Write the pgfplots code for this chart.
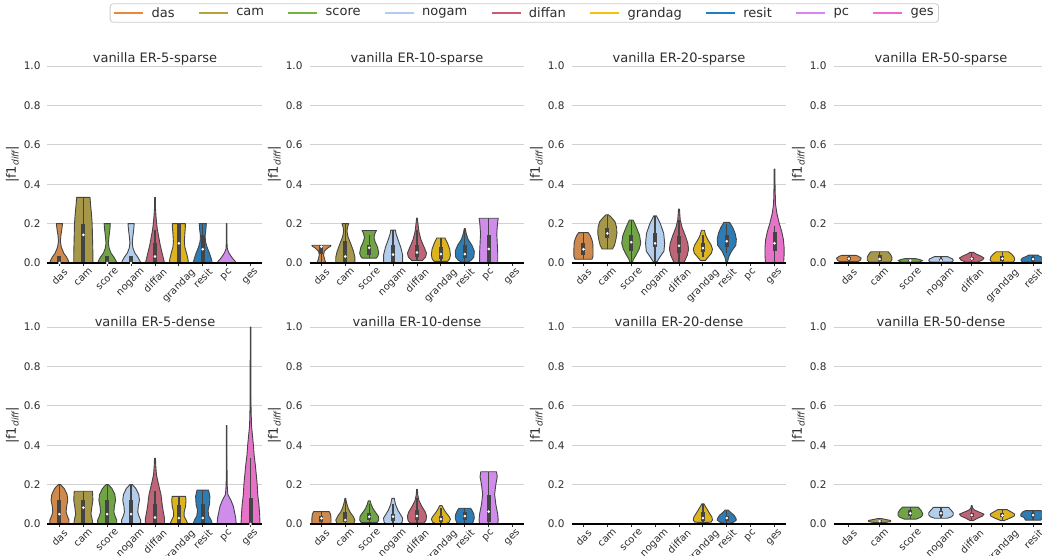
\documentclass[border=0pt]{standalone}
\usepackage{fontspec}
\setmainfont{DejaVu Sans}
\usepackage{graphicx}
\usepackage{pgfplots}
\pgfplotsset{compat=1.18}

\definecolor{textc}{RGB}{45,45,45}
\definecolor{vedge}{RGB}{68,68,68}
\definecolor{ldas}{RGB}{230,137,60}    \definecolor{vdas}{RGB}{207,137,76}
\definecolor{lcam}{RGB}{181,162,62}    \definecolor{vcam}{RGB}{166,152,72}
\definecolor{lscore}{RGB}{114,179,58}  \definecolor{vscore}{RGB}{112,164,68}
\definecolor{lnogam}{RGB}{174,205,242} \definecolor{vnogam}{RGB}{178,206,236}
\definecolor{ldiffan}{RGB}{204,90,114} \definecolor{vdiffan}{RGB}{192,100,120}
\definecolor{lgrandag}{RGB}{244,194,13}\definecolor{vgrandag}{RGB}{222,180,30}
\definecolor{lresit}{RGB}{31,127,196}  \definecolor{vresit}{RGB}{46,124,180}
\definecolor{lpc}{RGB}{214,131,245}    \definecolor{vpc}{RGB}{208,140,235}
\definecolor{lges}{RGB}{245,103,207}   \definecolor{vges}{RGB}{230,115,200}

% violin: position, colour, half-profile (half width, value) from bottom to top;
% the profile is mirrored into a closed outline
\makeatletter
\newcommand{\vio}[3]{%
  \gdef\vR{}\gdef\vL{}\gdef\vF{}%
  \vparse#3\relax
  \edef\vtmp{\noexpand\addplot[forget plot, fill=#2, draw=vedge, line width=0.9pt,
    line join=round, x filter/.expression={#1+x}] coordinates {\vR\vL\vF};}%
  \vtmp
}
\def\vparse{\@ifnextchar(\vparseA\@gobble}
\def\vparseA(#1,#2){\ifx\vF\@empty\xdef\vF{(#1,#2)}\fi
  \xdef\vR{\vR(#1,#2) }\xdef\vL{(-#1,#2) \vL}\vparse}
\makeatother
% inner box: position, low whisker, q1, median, q3, high whisker
\newcommand{\ibox}[6]{%
  \addplot[forget plot, vedge, line width=1.3pt] coordinates {(#1,#2) (#1,#6)};
  \addplot[forget plot, vedge, line width=4pt] coordinates {(#1,#3) (#1,#5)};
  \addplot[forget plot, only marks, mark=*, mark size=1.1pt, color=white] coordinates {(#1,#4)};
}
% degenerate violin (single value)
\newcommand{\vflat}[2]{%
  \addplot[forget plot, vedge, line width=1.2pt, x filter/.expression={#1+x}] coordinates {(-0.4,#2) (0.4,#2)};
}

\pgfplotsset{
  vstyle/.style={
    scale only axis, width=215pt, height=197pt,
    ymin=0, ymax=1, enlargelimits=false, clip=false,
    axis x line*=bottom, axis y line*=left,
    y axis line style={draw=none},
    x axis line style={black, line width=1.1pt},
    ymajorgrids, grid style={color=black!18, line width=0.8pt},
    ytick={0,0.2,0.4,0.6,0.8,1},
    /pgf/number format/assume math mode=true,
    yticklabel style={/pgf/number format/fixed, /pgf/number format/fixed zerofill,
      /pgf/number format/precision=1, font=\fontsize{10.5}{12}\selectfont, text=textc},
    ytick style={draw=none},
    xtick style={color=textc, line width=0.8pt},
    tick align=outside, major tick length=3.5pt,
    xticklabel style={font=\fontsize{10}{12}\selectfont, text=textc, inner sep=1pt},
    ylabel={\textbar f1\textsubscript{\itshape diff}\textbar},
    ylabel style={font=\fontsize{13}{15}\selectfont, text=textc},
    ylabel shift=-2pt,
    title style={at={(axis description cs:0.5,1)}, anchor=south, inner sep=2pt, yshift=-7.5pt,
      font=\fontsize{13}{15}\selectfont, text=textc},
  },
  nine/.style={xmin=-0.5, xmax=8.5, xtick={0,1,2,3,4,5,6,7,8},
    xticklabels={\rotatebox{45}{das},\rotatebox{45}{cam},\rotatebox{45}{score},\rotatebox{45}{nogam},\rotatebox{45}{diffan},\rotatebox{45}{grandag},\rotatebox{45}{resit},\rotatebox{45}{pc},\rotatebox{45}{ges}}},
  seven/.style={xmin=-0.5, xmax=6.5, xtick={0,1,2,3,4,5,6},
    xticklabels={\rotatebox{45}{das},\rotatebox{45}{cam},\rotatebox{45}{score},\rotatebox{45}{nogam},\rotatebox{45}{diffan},\rotatebox{45}{grandag},\rotatebox{45}{resit}}},
}

\begin{document}
\begin{tikzpicture}

% ---------------- ER-5-sparse
\begin{axis}[vstyle, nine, at={(47.5pt,293pt)}, anchor=south west, title={vanilla ER-5-sparse},
  legend columns=9,
  legend image code/.code={\draw[#1, line width=2.6pt] (0pt,0pt) -- (29pt,0pt);},
  legend style={at={(axis description cs:2.218,1.269)}, anchor=center, draw=black!20,
    line width=0.8pt, rounded corners=3pt, fill=white, font=\fontsize{13}{15}\selectfont,
    text=textc, inner xsep=3pt, inner ysep=1.5pt,
    /tikz/every odd column/.append style={column sep=5pt},
    /tikz/every even column/.append style={column sep=21pt}}]
\addlegendimage{color=ldas}\addlegendentry{das}
\addlegendimage{color=lcam}\addlegendentry{cam}
\addlegendimage{color=lscore}\addlegendentry{score}
\addlegendimage{color=lnogam}\addlegendentry{nogam}
\addlegendimage{color=ldiffan}\addlegendentry{diffan}
\addlegendimage{color=lgrandag}\addlegendentry{grandag}
\addlegendimage{color=lresit}\addlegendentry{resit}
\addlegendimage{color=lpc}\addlegendentry{pc}
\addlegendimage{color=lges}\addlegendentry{ges}
\vio{0}{vdas}{(0.40,0) (0.38,0.01) (0.30,0.03) (0.18,0.05) (0.08,0.08) (0.04,0.11) (0.06,0.14) (0.10,0.17) (0.13,0.2)}
\vio{1}{vcam}{(0.40,0) (0.40,0.05) (0.39,0.10) (0.38,0.15) (0.37,0.20) (0.34,0.25) (0.30,0.30) (0.28,0.333)}
\vio{2}{vscore}{(0.40,0) (0.37,0.01) (0.28,0.03) (0.16,0.05) (0.08,0.075) (0.05,0.1) (0.07,0.13) (0.11,0.17) (0.13,0.2)}
\vio{3}{vnogam}{(0.40,0) (0.37,0.01) (0.28,0.03) (0.16,0.05) (0.08,0.075) (0.05,0.1) (0.07,0.13) (0.11,0.17) (0.13,0.2)}
\vio{4}{vdiffan}{(0.40,0) (0.36,0.02) (0.30,0.05) (0.22,0.09) (0.16,0.13) (0.10,0.17) (0.07,0.2) (0.04,0.24) (0.02,0.28) (0.015,0.333)}
\vio{5}{vgrandag}{(0.40,0) (0.38,0.02) (0.32,0.05) (0.25,0.08) (0.23,0.11) (0.25,0.15) (0.27,0.18) (0.27,0.2)}
\vio{6}{vresit}{(0.40,0) (0.36,0.02) (0.28,0.05) (0.18,0.08) (0.11,0.11) (0.10,0.14) (0.13,0.17) (0.15,0.2)}
\vio{7}{vpc}{(0.40,0) (0.35,0.01) (0.27,0.02) (0.18,0.035) (0.10,0.05) (0.03,0.07) (0.015,0.1) (0.012,0.2)}
\vflat{8}{0}
\ibox{0}{0}{0}{0}{0.033}{0.033}
\ibox{1}{0}{0}{0.143}{0.2}{0.333}
\ibox{2}{0}{0}{0}{0.033}{0.033}
\ibox{3}{0}{0}{0}{0.033}{0.033}
\ibox{4}{0}{0}{0.033}{0.1}{0.167}
\ibox{5}{0}{0}{0.1}{0.2}{0.2}
\ibox{6}{0}{0}{0.07}{0.143}{0.2}
\draw[black, line width=1.1pt] (axis cs:-0.5,0) -- (axis cs:8.5,0);
\end{axis}

% ---------------- ER-10-sparse
\begin{axis}[vstyle, nine, at={(309.5pt,293pt)}, anchor=south west, title={vanilla ER-10-sparse}]
\vio{0}{vdas}{(0.18,0) (0.13,0.02) (0.09,0.04) (0.12,0.06) (0.25,0.075) (0.38,0.085) (0.40,0.09)}
\vio{1}{vcam}{(0.40,0) (0.40,0.03) (0.34,0.06) (0.22,0.10) (0.12,0.13) (0.07,0.16) (0.09,0.18) (0.14,0.2)}
\vio{2}{vscore}{(0.30,0.025) (0.36,0.035) (0.40,0.05) (0.35,0.08) (0.24,0.11) (0.20,0.13) (0.24,0.15) (0.30,0.165)}
\vio{3}{vnogam}{(0.40,0) (0.40,0.04) (0.32,0.08) (0.20,0.12) (0.12,0.15) (0.10,0.167)}
\vio{4}{vdiffan}{(0.22,0.012) (0.36,0.03) (0.40,0.05) (0.30,0.08) (0.16,0.12) (0.08,0.16) (0.04,0.2) (0.015,0.228)}
\vio{5}{vgrandag}{(0.28,0.008) (0.36,0.02) (0.40,0.04) (0.37,0.07) (0.28,0.10) (0.17,0.127)}
\vio{6}{vresit}{(0.15,0.005) (0.28,0.015) (0.38,0.03) (0.40,0.06) (0.30,0.09) (0.14,0.12) (0.06,0.15) (0.02,0.175)}
\vio{7}{vpc}{(0.38,0) (0.38,0.05) (0.36,0.10) (0.34,0.15) (0.37,0.2) (0.40,0.227)}
\vflat{8}{0}
\ibox{0}{0}{0.045}{0.083}{0.09}{0.09}
\ibox{1}{0}{0}{0.033}{0.11}{0.2}
\ibox{2}{0.025}{0.04}{0.077}{0.09}{0.143}
\ibox{3}{0}{0}{0.043}{0.09}{0.167}
\ibox{4}{0.012}{0.03}{0.053}{0.09}{0.17}
\ibox{5}{0.008}{0.02}{0.045}{0.08}{0.127}
\ibox{6}{0.005}{0.025}{0.045}{0.09}{0.175}
\ibox{7}{0}{0}{0.071}{0.143}{0.227}
\draw[black, line width=1.1pt] (axis cs:-0.5,0) -- (axis cs:8.5,0);
\end{axis}

% ---------------- ER-20-sparse
\begin{axis}[vstyle, nine, at={(571.5pt,293pt)}, anchor=south west, title={vanilla ER-20-sparse}]
\vio{0}{vdas}{(0.36,0.019) (0.40,0.035) (0.40,0.07) (0.39,0.1) (0.35,0.12) (0.28,0.14) (0.20,0.154)}
\vio{1}{vcam}{(0.22,0.071) (0.30,0.09) (0.36,0.12) (0.40,0.15) (0.39,0.18) (0.32,0.21) (0.18,0.23) (0.05,0.245)}
\vio{2}{vscore}{(0.04,0) (0.10,0.02) (0.20,0.04) (0.33,0.07) (0.40,0.1) (0.35,0.14) (0.22,0.18) (0.08,0.218)}
\vio{3}{vnogam}{(0.08,0.007) (0.20,0.03) (0.37,0.06) (0.40,0.1) (0.36,0.15) (0.22,0.2) (0.06,0.239)}
\vio{4}{vdiffan}{(0.20,0) (0.35,0.04) (0.40,0.07) (0.37,0.1) (0.26,0.14) (0.13,0.18) (0.05,0.22) (0.02,0.274)}
\vio{5}{vgrandag}{(0.10,0.012) (0.22,0.03) (0.36,0.05) (0.40,0.07) (0.35,0.09) (0.20,0.12) (0.12,0.14) (0.06,0.166)}
\vio{6}{vresit}{(0.03,0.005) (0.08,0.03) (0.20,0.06) (0.38,0.09) (0.40,0.12) (0.35,0.15) (0.25,0.18) (0.12,0.206)}
\vflat{7}{0}
\vio{8}{vges}{(0.38,0) (0.40,0.04) (0.40,0.08) (0.37,0.12) (0.30,0.16) (0.20,0.2) (0.10,0.25) (0.04,0.3) (0.02,0.4) (0.015,0.477)}
\ibox{0}{0.019}{0.04}{0.07}{0.1}{0.154}
\ibox{1}{0.071}{0.125}{0.15}{0.18}{0.245}
\ibox{2}{0}{0.06}{0.105}{0.14}{0.218}
\ibox{3}{0.01}{0.08}{0.1}{0.15}{0.239}
\ibox{4}{0}{0.05}{0.087}{0.135}{0.22}
\ibox{5}{0.03}{0.055}{0.075}{0.1}{0.14}
\ibox{6}{0.05}{0.08}{0.11}{0.14}{0.2}
\ibox{8}{0}{0.06}{0.1}{0.155}{0.186}
\draw[black, line width=1.1pt] (axis cs:-0.5,0) -- (axis cs:8.5,0);
\end{axis}

% ---------------- ER-50-sparse
\begin{axis}[vstyle, seven, at={(833.5pt,293pt)}, anchor=south west, title={vanilla ER-50-sparse}]
\vio{0}{vdas}{(0.30,0.007) (0.38,0.015) (0.40,0.025) (0.30,0.035) (0.22,0.039)}
\vio{1}{vcam}{(0.35,0.005) (0.40,0.015) (0.40,0.03) (0.35,0.045) (0.28,0.057)}
\vio{2}{vscore}{(0.30,0.005) (0.40,0.012) (0.30,0.018) (0.18,0.022)}
\vio{3}{vnogam}{(0.35,0.005) (0.40,0.012) (0.38,0.02) (0.22,0.032)}
\vio{4}{vdiffan}{(0.20,0.005) (0.35,0.015) (0.40,0.025) (0.30,0.035) (0.15,0.045) (0.06,0.054)}
\vio{5}{vgrandag}{(0.35,0.005) (0.40,0.015) (0.38,0.03) (0.30,0.045) (0.20,0.057)}
\vio{6}{vresit}{(0.35,0.005) (0.40,0.015) (0.35,0.025) (0.20,0.035) (0.15,0.04)}
\ibox{0}{0.007}{0.015}{0.022}{0.03}{0.039}
\ibox{1}{0.005}{0.01}{0.02}{0.04}{0.057}
\ibox{2}{0.005}{0.009}{0.013}{0.017}{0.022}
\ibox{3}{0.005}{0.01}{0.013}{0.02}{0.032}
\ibox{4}{0.005}{0.015}{0.022}{0.03}{0.054}
\ibox{5}{0.005}{0.012}{0.022}{0.035}{0.057}
\ibox{6}{0.005}{0.012}{0.02}{0.028}{0.04}
\draw[black, line width=1.1pt] (axis cs:-0.5,0) -- (axis cs:6.5,0);
\end{axis}

% ---------------- ER-5-dense
\begin{axis}[vstyle, nine, at={(47.5pt,32pt)}, anchor=south west, title={vanilla ER-5-dense}]
\vio{0}{vdas}{(0.40,0) (0.40,0.02) (0.33,0.04) (0.28,0.06) (0.30,0.09) (0.35,0.12) (0.32,0.15) (0.20,0.18) (0.05,0.2)}
\vio{1}{vcam}{(0.40,0) (0.36,0.03) (0.32,0.05) (0.35,0.08) (0.40,0.12) (0.39,0.15) (0.38,0.166)}
\vio{2}{vscore}{(0.40,0) (0.40,0.02) (0.33,0.04) (0.28,0.06) (0.30,0.09) (0.35,0.12) (0.32,0.15) (0.20,0.18) (0.05,0.2)}
\vio{3}{vnogam}{(0.40,0) (0.40,0.02) (0.33,0.04) (0.28,0.06) (0.30,0.09) (0.35,0.12) (0.32,0.15) (0.20,0.18) (0.05,0.2)}
\vio{4}{vdiffan}{(0.40,0) (0.40,0.03) (0.35,0.06) (0.30,0.1) (0.25,0.15) (0.15,0.2) (0.06,0.25) (0.03,0.3) (0.02,0.333)}
\vio{5}{vgrandag}{(0.38,0) (0.30,0.02) (0.22,0.04) (0.22,0.06) (0.28,0.09) (0.30,0.12) (0.28,0.14)}
\vio{6}{vresit}{(0.40,0) (0.35,0.02) (0.25,0.04) (0.22,0.07) (0.28,0.1) (0.30,0.14) (0.24,0.172)}
\vio{7}{vpc}{(0.40,0) (0.38,0.03) (0.33,0.06) (0.28,0.09) (0.18,0.12) (0.05,0.15) (0.02,0.2) (0.015,0.3) (0.012,0.5)}
\vio{8}{vges}{(0.40,0) (0.38,0.05) (0.35,0.1) (0.30,0.15) (0.28,0.2) (0.24,0.25) (0.20,0.3) (0.15,0.35) (0.12,0.4) (0.08,0.45) (0.04,0.5) (0.02,0.6) (0.015,0.8) (0.012,1.0)}
\ibox{0}{0}{0}{0.05}{0.12}{0.2}
\ibox{1}{0}{0}{0.083}{0.12}{0.166}
\ibox{2}{0}{0}{0.05}{0.12}{0.2}
\ibox{3}{0}{0}{0.05}{0.12}{0.2}
\ibox{4}{0}{0}{0.033}{0.1}{0.167}
\ibox{5}{0}{0}{0.03}{0.095}{0.14}
\ibox{6}{0}{0}{0.03}{0.1}{0.172}
\ibox{8}{0}{0}{0}{0.133}{0.333}
\draw[black, line width=1.1pt] (axis cs:-0.5,0) -- (axis cs:8.5,0);
\end{axis}

% ---------------- ER-10-dense
\begin{axis}[vstyle, nine, at={(309.5pt,32pt)}, anchor=south west, title={vanilla ER-10-dense}]
\vio{0}{vdas}{(0.40,0) (0.40,0.01) (0.40,0.03) (0.38,0.05) (0.33,0.0625)}
\vio{1}{vcam}{(0.35,0) (0.40,0.02) (0.32,0.04) (0.20,0.06) (0.12,0.08) (0.07,0.1) (0.03,0.12) (0.02,0.13)}
\vio{2}{vscore}{(0.33,0.007) (0.40,0.02) (0.38,0.04) (0.26,0.06) (0.15,0.08) (0.08,0.1) (0.04,0.118)}
\vio{3}{vnogam}{(0.30,0) (0.38,0.01) (0.40,0.03) (0.30,0.05) (0.20,0.07) (0.10,0.1) (0.05,0.13)}
\vio{4}{vdiffan}{(0.30,0.005) (0.38,0.02) (0.40,0.04) (0.35,0.06) (0.20,0.09) (0.08,0.12) (0.03,0.15) (0.015,0.176)}
\vio{5}{vgrandag}{(0.20,0) (0.35,0.01) (0.40,0.025) (0.33,0.04) (0.20,0.06) (0.10,0.08) (0.05,0.093)}
\vio{6}{vresit}{(0.30,0) (0.35,0.01) (0.40,0.03) (0.38,0.05) (0.30,0.07) (0.24,0.08)}
\vio{7}{vpc}{(0.38,0) (0.40,0.02) (0.38,0.05) (0.30,0.1) (0.25,0.15) (0.30,0.2) (0.36,0.24) (0.33,0.265)}
\vflat{8}{0}
\ibox{0}{0}{0.01}{0.029}{0.04}{0.0625}
\ibox{1}{0}{0.01}{0.02}{0.06}{0.12}
\ibox{2}{0.007}{0.02}{0.037}{0.055}{0.1}
\ibox{3}{0}{0.015}{0.037}{0.05}{0.1}
\ibox{4}{0.005}{0.02}{0.04}{0.07}{0.13}
\ibox{5}{0}{0.01}{0.025}{0.04}{0.08}
\ibox{6}{0}{0.02}{0.04}{0.06}{0.08}
\ibox{7}{0}{0.012}{0.063}{0.145}{0.265}
\draw[black, line width=1.1pt] (axis cs:-0.5,0) -- (axis cs:8.5,0);
\end{axis}

% ---------------- ER-20-dense
\begin{axis}[vstyle, nine, at={(571.5pt,32pt)}, anchor=south west, title={vanilla ER-20-dense}]
\vflat{0}{0}
\vflat{1}{0}
\vflat{2}{0}
\vflat{3}{0}
\vflat{4}{0}
\vio{5}{vgrandag}{(0.20,0.008) (0.35,0.01) (0.40,0.02) (0.38,0.035) (0.30,0.05) (0.20,0.07) (0.10,0.09) (0.04,0.103)}
\vio{6}{vresit}{(0.10,0.003) (0.30,0.01) (0.40,0.02) (0.38,0.03) (0.30,0.045) (0.15,0.06) (0.06,0.071)}
\vflat{7}{0}
\vflat{8}{0}
\ibox{5}{0.008}{0.015}{0.03}{0.06}{0.103}
\ibox{6}{0.003}{0.015}{0.03}{0.04}{0.071}
\draw[black, line width=1.1pt] (axis cs:-0.5,0) -- (axis cs:8.5,0);
\end{axis}

% ---------------- ER-50-dense
\begin{axis}[vstyle, seven, at={(833.5pt,32pt)}, anchor=south west, title={vanilla ER-50-dense}]
\vflat{0}{0}
\vio{1}{vcam}{(0.15,0.007) (0.36,0.012) (0.36,0.018) (0.20,0.023) (0.08,0.027)}
\vio{2}{vscore}{(0.20,0.025) (0.35,0.035) (0.40,0.045) (0.40,0.055) (0.35,0.07) (0.25,0.086)}
\vio{3}{vnogam}{(0.20,0.029) (0.35,0.037) (0.40,0.047) (0.40,0.057) (0.33,0.07) (0.25,0.084)}
\vio{4}{vdiffan}{(0.05,0.017) (0.20,0.03) (0.35,0.04) (0.40,0.05) (0.25,0.06) (0.10,0.07) (0.03,0.08) (0.015,0.093)}
\vio{5}{vgrandag}{(0.05,0.017) (0.25,0.03) (0.38,0.04) (0.40,0.05) (0.30,0.06) (0.15,0.073)}
\vio{6}{vresit}{(0.25,0.02) (0.30,0.033) (0.40,0.04) (0.40,0.05) (0.35,0.06) (0.25,0.068)}
\ibox{1}{0.007}{0.011}{0.015}{0.02}{0.027}
\ibox{2}{0.025}{0.04}{0.054}{0.07}{0.086}
\ibox{3}{0.029}{0.04}{0.054}{0.068}{0.084}
\ibox{4}{0.017}{0.035}{0.045}{0.055}{0.08}
\ibox{5}{0.017}{0.035}{0.043}{0.055}{0.073}
\ibox{6}{0.02}{0.035}{0.045}{0.055}{0.068}
\draw[black, line width=1.1pt] (axis cs:-0.5,0) -- (axis cs:6.5,0);
\end{axis}
\pgfresetboundingbox
\useasboundingbox (0pt,0pt) rectangle (1042pt,556pt);
\end{tikzpicture}
\end{document}
